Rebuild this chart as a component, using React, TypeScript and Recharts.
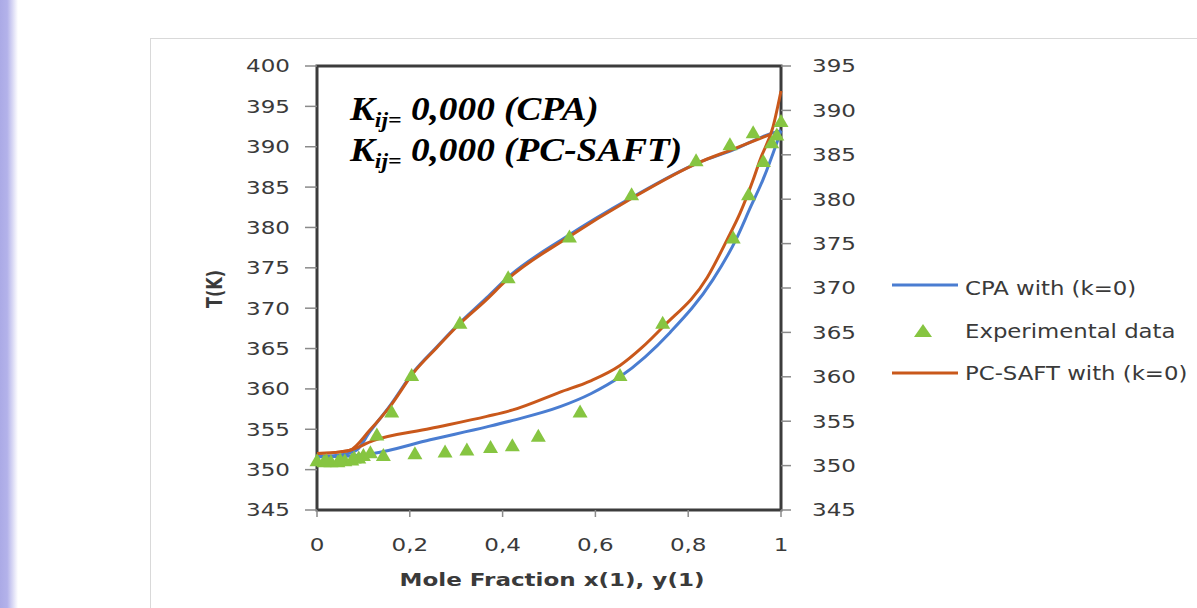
import React from 'react';
import { ComposedChart, Line, Scatter, XAxis, YAxis, ReferenceArea } from 'recharts';

const xTicks = [0, 0.2, 0.4, 0.6, 0.8, 1];
const leftTicks = [345, 350, 355, 360, 365, 370, 375, 380, 385, 390, 395, 400];
const rightTicks = [345, 350, 355, 360, 365, 370, 375, 380, 385, 390, 395];

// CPA with (k=0), left axis
const cpaBubbleX = [0, 0.071, 0.121, 0.244, 0.366, 0.422, 0.524, 0.59, 0.653, 0.761, 0.853, 0.903, 0.935, 0.961, 0.991, 1];
const cpaBubbleT = [351.6, 351.7, 352.0, 353.7, 355.3, 356.1, 357.8, 359.4, 361.5, 367.0, 373.5, 378.5, 382.6, 385.9, 390.5, 392.0];
const cpaDewX = [0, 0.05, 0.085, 0.114, 0.157, 0.208, 0.258, 0.301, 0.366, 0.409, 0.539, 0.675, 0.825, 0.897, 0.976, 1];
const cpaDewT = [351.6, 351.8, 352.4, 354.7, 357.9, 362.1, 365.2, 367.8, 371.3, 373.7, 378.9, 383.6, 388.1, 389.6, 391.6, 392.0];

// PC-SAFT with (k=0), left axis
const pcBubbleX = [0, 0.05, 0.071, 0.121, 0.244, 0.366, 0.422, 0.524, 0.59, 0.653, 0.7, 0.746, 0.841, 0.884, 0.912, 0.94, 0.955, 0.983, 1];
const pcBubbleT = [352.0, 352.2, 352.4, 353.6, 355.1, 356.6, 357.4, 359.6, 361.0, 362.9, 365.1, 367.7, 373.8, 378.5, 381.8, 385.9, 388.4, 392.5, 396.9];
const pcDewX = [0, 0.05, 0.071, 0.114, 0.157, 0.208, 0.258, 0.301, 0.366, 0.409, 0.539, 0.675, 0.825, 0.897, 0.976];
const pcDewT = [352.0, 352.2, 352.4, 354.9, 357.8, 362.0, 365.1, 367.7, 371.1, 373.5, 378.7, 383.5, 388.1, 389.7, 391.5];

// Experimental data, right axis
const expBubbleX = [0, 0.015, 0.03, 0.045, 0.06, 0.075, 0.09, 0.143, 0.211, 0.276, 0.323, 0.374, 0.421, 0.477, 0.567, 0.653, 0.745, 0.897, 0.93, 0.962, 0.98, 0.991];
const expBubbleT = [350.6, 350.5, 350.5, 350.5, 350.6, 350.7, 350.9, 351.2, 351.4, 351.6, 351.8, 352.1, 352.3, 353.35, 356.1, 360.2, 366.1, 375.7, 380.55, 384.3, 386.4, 387.3];
const expDewX = [0.02, 0.05, 0.08, 0.1, 0.115, 0.129, 0.161, 0.204, 0.308, 0.412, 0.544, 0.678, 0.817, 0.89, 0.94, 1];
const expDewT = [350.6, 350.7, 350.9, 351.2, 351.5, 353.5, 356.1, 360.2, 366.1, 371.2, 375.8, 380.55, 384.4, 386.2, 387.55, 388.8];

const zip = (xs: number[], ts: number[]) => xs.map((x, i) => ({ x, T: ts[i] }));

const cpaBubble = zip(cpaBubbleX, cpaBubbleT);
const cpaDew = zip(cpaDewX, cpaDewT);
const pcBubble = zip(pcBubbleX, pcBubbleT);
const pcDew = zip(pcDewX, pcDewT);
const expData = [...zip(expBubbleX, expBubbleT), ...zip(expDewX, expDewT)];

const BLUE = '#4a7dd1';
const ORANGE = '#c9581b';
const GREEN = '#86c541';
const TEXT = '#3a3a3a';
const SX = 1.28;
const FONT = '"DejaVu Sans", Verdana, sans-serif';

const fmtX = (v: number) => String(v).replace('.', ',');

const SideTick = ({ x, y, payload, anchor }: any) => (
  <g transform={`translate(${x},${y}) scale(${SX},1)`}>
    <text x={0} y={0} dy="0.36em" textAnchor={anchor} fill={TEXT} fontSize={18} fontFamily={FONT}>
      {payload.value}
    </text>
  </g>
);

const BottomTick = ({ x, y, payload }: any) => (
  <g transform={`translate(${x},${y}) scale(${SX},1)`}>
    <text x={0} y={0} dy="0.71em" textAnchor="middle" fill={TEXT} fontSize={18} fontFamily={FONT}>
      {fmtX(payload.value)}
    </text>
  </g>
);

const Triangle = ({ cx, cy }: any) => (
  <polygon points={`${cx},${cy - 7} ${cx + 7.5},${cy + 6} ${cx - 7.5},${cy + 6}`} fill={GREEN} />
);

export default function App() {
  return (
    <div style={{ position: 'fixed', left: 0, top: 0, width: 1197, height: 608, overflow: 'hidden', background: '#fff' }}>
      <div style={{ position: 'absolute', left: 0, top: 0, width: 18, height: 608, background: 'linear-gradient(to right, #abaae6 0%, #b3b2ea 40%, #ffffff 100%)' }} />
      <div style={{ position: 'absolute', left: 150, top: 38, width: 1200, height: 700, border: '1px solid #d9d9d9', boxSizing: 'border-box' }} />
      <div style={{ position: 'absolute', left: 0, top: 0 }}>
        <ComposedChart width={1197} height={608} margin={{ top: 66, right: 336, bottom: 38, left: 200 }}>
          <XAxis
            dataKey="x"
            type="number"
            domain={[0, 1]}
            ticks={xTicks}
            height={60}
            tickSize={7}
            tickMargin={21}
            axisLine={false}
            tickLine={{ stroke: '#8a8a8a', strokeWidth: 1.5 }}
            tick={(p: any) => <BottomTick {...p} />}
          />
          <YAxis
            yAxisId="left"
            dataKey="T"
            type="number"
            domain={[345, 400]}
            ticks={leftTicks}
            width={117}
            tickSize={12}
            tickMargin={15}
            axisLine={false}
            tickLine={{ stroke: '#8a8a8a', strokeWidth: 1.5 }}
            tick={(p: any) => <SideTick {...p} anchor="end" />}
          />
          <YAxis
            yAxisId="right"
            orientation="right"
            dataKey="T"
            type="number"
            domain={[345, 395]}
            ticks={rightTicks}
            width={80}
            tickSize={10}
            tickMargin={21}
            axisLine={false}
            tickLine={{ stroke: '#8a8a8a', strokeWidth: 1.5 }}
            tick={(p: any) => <SideTick {...p} anchor="start" />}
          />
          <ReferenceArea yAxisId="left" x1={0} x2={1} y1={345} y2={400} fill="none" stroke="#3c3c3c" strokeWidth={3} ifOverflow="visible" />
          <Line yAxisId="left" data={cpaBubble} dataKey="T" type="monotone" stroke={BLUE} strokeWidth={3} dot={false} isAnimationActive={false} />
          <Line yAxisId="left" data={cpaDew} dataKey="T" type="monotone" stroke={BLUE} strokeWidth={3} dot={false} isAnimationActive={false} />
          <Scatter yAxisId="right" data={expData} dataKey="T" shape={(p: any) => <Triangle {...p} />} isAnimationActive={false} />
          <Line yAxisId="left" data={pcBubble} dataKey="T" type="monotone" stroke={ORANGE} strokeWidth={3} dot={false} isAnimationActive={false} />
          <Line yAxisId="left" data={pcDew} dataKey="T" type="monotone" stroke={ORANGE} strokeWidth={3} dot={false} isAnimationActive={false} />
        </ComposedChart>
      </div>
      <svg width={1197} height={608} style={{ position: 'absolute', left: 0, top: 0, pointerEvents: 'none' }}>
        <text transform={`translate(222,289) scale(${SX},1) rotate(-90)`} textAnchor="middle" fontSize={16} fontWeight="bold" fontFamily={FONT} fill={TEXT}>
          T(K)
        </text>
        <text transform={`translate(552,586) scale(${SX},1)`} textAnchor="middle" fontSize={18} fontWeight="bold" fontFamily={FONT} fill={TEXT}>
          Mole Fraction x(1), y(1)
        </text>
        <g fontFamily='"Liberation Serif", "Times New Roman", serif' fontWeight="bold" fontStyle="italic" fill="#000" style={{ whiteSpace: 'pre' }}>
          <text transform="translate(350,120) scale(1.13,1)" fontSize={33}>
            K<tspan fontSize={21} dy={7}>ij=</tspan><tspan dy={-7}> 0,000 (CPA)</tspan>
          </text>
          <text transform="translate(350,161) scale(1.13,1)" fontSize={33}>
            K<tspan fontSize={21} dy={7}>ij=</tspan><tspan dy={-7}> 0,000 (PC-SAFT)</tspan>
          </text>
        </g>
        <line x1={892} x2={958} y1={285} y2={285} stroke={BLUE} strokeWidth={3} />
        <polygon points="923,324 932,337 914,337" fill={GREEN} />
        <line x1={892} x2={958} y1={373} y2={373} stroke={ORANGE} strokeWidth={3} />
        <g fontFamily={FONT} fontSize={19} fill={TEXT}>
          <text transform="translate(965,295) scale(1.2,1)">CPA with (k=0)</text>
          <text transform="translate(965,338) scale(1.2,1)">Experimental data</text>
          <text transform="translate(965,380) scale(1.2,1)">PC-SAFT with (k=0)</text>
        </g>
      </svg>
    </div>
  );
}
